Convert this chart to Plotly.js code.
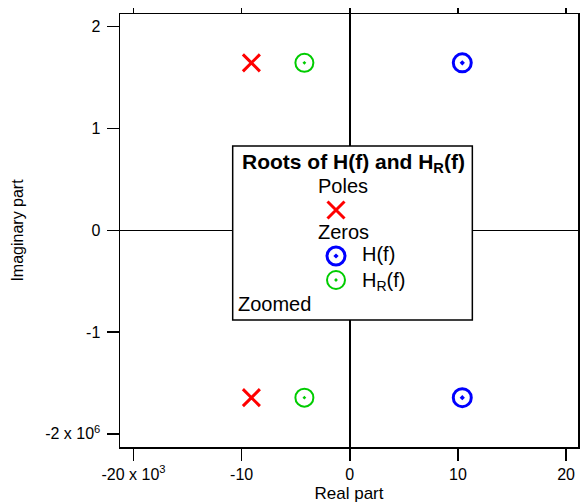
<!DOCTYPE html>
<html>
<head>
<meta charset="utf-8">
<script src="https://cdn.plot.ly/plotly-3.0.1.min.js"></script>
<style>
  html, body { margin: 0; padding: 0; background: #fff; }
  #chart { width: 580px; height: 503px; }
</style>
</head>
<body>
<div id="chart"></div>
<script>
// Root locations in the complex plane (real part, imaginary part)
const poleRe   = [-9100, -9100];
const poleIm   = [1645000, -1645000];
const zeroHRe  = [10400, 10400];
const zeroHIm  = [1645000, -1645000];
const zeroHRRe = [-4200, -4200];
const zeroHRIm = [1645000, -1645000];

// Tick labels
const xTickVals = [-20000, -10000, 0, 10000, 20000];
const xTickText = ['-20 x 10<sup>3</sup>', '-10', '0', '10', '20'];
const yTickVals = [-2000000, -1000000, 0, 1000000, 2000000];
const yTickText = ['-2 x 10<sup>6</sup>', '-1', '0', '1', '2'];

const RED = '#ff0000', BLUE = '#0000ff', GREEN = '#00cc00';
const FONT = 'Liberation Sans, Arial, Helvetica, sans-serif';

const xRange = [-21250, 21100];
const yRange = [-2130000, 2125000];

const poleMarker  = { symbol: 'x-thin-open', size: 17, color: RED, opacity: 1, line: { width: 3, color: RED } };
const zeroHMarker = { symbol: 'circle-open-dot', size: 18, color: BLUE, opacity: 1, line: { width: 3, color: BLUE } };
const zeroRMarker = { symbol: 'circle-open-dot', size: 18, color: GREEN, opacity: 1, line: { width: 2, color: GREEN } };

const traces = [
  { type: 'scatter', mode: 'markers', x: poleRe, y: poleIm, hoverinfo: 'skip', marker: poleMarker },
  { type: 'scatter', mode: 'markers', x: zeroHRe, y: zeroHIm, hoverinfo: 'skip', marker: zeroHMarker },
  { type: 'scatter', mode: 'markers', x: zeroHRRe, y: zeroHRIm, hoverinfo: 'skip', marker: zeroRMarker },
  // top axis carries only tick marks
  { type: 'scatter', mode: 'markers', x: [], y: [], xaxis: 'x2', yaxis: 'y', hoverinfo: 'skip' },
  // key symbols inside the legend box (pixel-space overlay)
  { type: 'scatter', mode: 'markers', xaxis: 'x3', yaxis: 'y3', hoverinfo: 'skip', x: [336], y: [210], marker: poleMarker },
  { type: 'scatter', mode: 'markers', xaxis: 'x3', yaxis: 'y3', hoverinfo: 'skip', x: [336], y: [256], marker: zeroHMarker },
  { type: 'scatter', mode: 'markers', xaxis: 'x3', yaxis: 'y3', hoverinfo: 'skip', x: [336], y: [280], marker: zeroRMarker }
];

const axisCommon = {
  ticks: 'outside', ticklen: 12, tickwidth: 1.5, tickcolor: '#000',
  showline: true, linewidth: 1.5, linecolor: '#000', mirror: true,
  showgrid: false, zeroline: true, zerolinewidth: 1.5, zerolinecolor: '#000',
  tickfont: { family: FONT, size: 16, color: '#000' },
  fixedrange: true
};

const legendText = (text, x, y, opts) => Object.assign({
  xref: 'x3', yref: 'y3', x: x, y: y, text: text, showarrow: false,
  font: { family: FONT, size: 20, color: '#000' }
}, opts || {});

const layout = {
  width: 580, height: 503,
  margin: { l: 120, r: 2, t: 14, b: 56 },
  paper_bgcolor: '#fff', plot_bgcolor: '#fff',
  showlegend: false,
  font: { family: FONT, size: 16, color: '#000' },
  xaxis: Object.assign({}, axisCommon, {
    range: xRange, tickmode: 'array', tickvals: xTickVals, ticktext: xTickText,
    title: { text: 'Real part', font: { family: FONT, size: 17 }, standoff: 10 }
  }),
  yaxis: Object.assign({}, axisCommon, {
    range: yRange, tickmode: 'array', tickvals: yTickVals, ticktext: yTickText,
    ticklabelstandoff: 3,
    title: { text: 'Imaginary part', font: { family: FONT, size: 16 }, standoff: 17 }
  }),
  xaxis2: {
    overlaying: 'x', anchor: 'y', side: 'top', range: xRange,
    tickmode: 'array', tickvals: xTickVals, ticks: 'outside', ticklen: 5,
    tickwidth: 1.5, tickcolor: '#000', showticklabels: false,
    showline: false, showgrid: false, zeroline: false, fixedrange: true
  },
  xaxis3: { overlaying: 'x', anchor: 'y3', range: [120, 578], visible: false, fixedrange: true },
  yaxis3: { overlaying: 'y', anchor: 'x3', range: [447, 14], visible: false, fixedrange: true },
  shapes: [
    { type: 'rect', xref: 'x', yref: 'y', layer: 'between',
      x0: -10830, x1: 11330, y0: -882000, y1: 827000,
      fillcolor: '#fff', line: { color: '#000', width: 1.5 } }
  ],
  annotations: [
    legendText('<b>Roots of H(f) and H<sub>R</sub>(f)</b>', 353, 163, { font: { family: FONT, size: 21, color: '#000' } }),
    legendText('Poles', 343, 186),
    legendText('Zeros', 343.5, 232),
    legendText('H(f)', 360, 254, { xanchor: 'left' }),
    legendText('H<sub>R</sub>(f)', 360, 281, { xanchor: 'left' }),
    legendText('Zoomed', 236, 304, { xanchor: 'left' })
  ]
};

Plotly.newPlot('chart', traces, layout, { displayModeBar: false, staticPlot: true });
</script>
</body>
</html>
